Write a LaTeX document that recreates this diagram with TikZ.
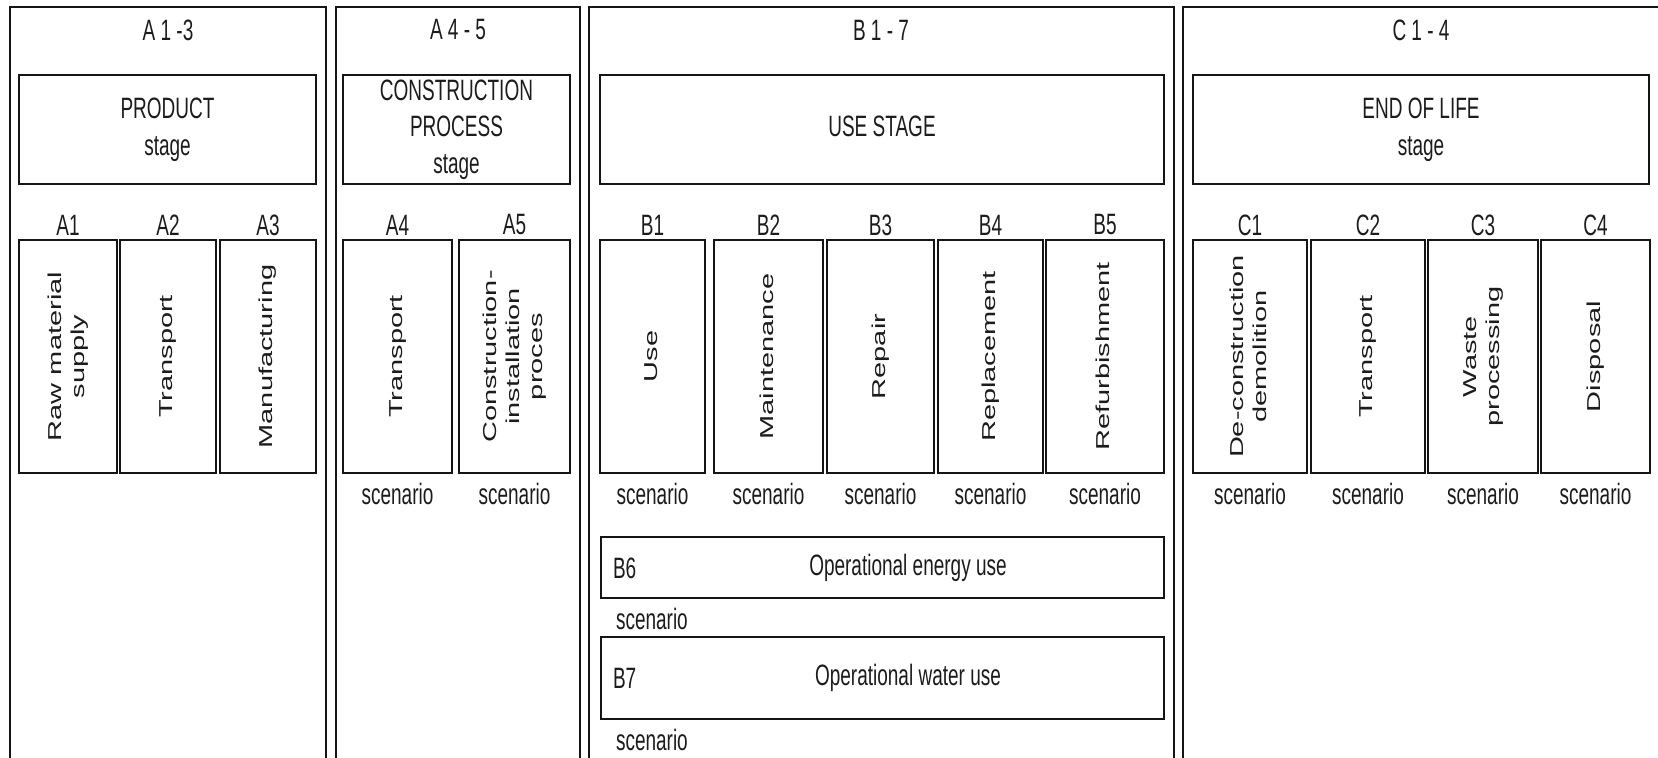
\documentclass[tikz,border=0pt]{standalone}
\usepackage{fontspec}
\setmainfont{Liberation Sans}
\usepackage{graphicx}
\definecolor{ln}{HTML}{151515}
\definecolor{txt}{HTML}{1C1C1C}
\newcommand\hs[1]{\scalebox{1}[1.55]{#1}}
\newcommand\hT[1]{\scalebox{1}[1.55]{\begin{tabular}{@{}c@{}}#1\end{tabular}}}
\newcommand\vT[1]{\rotatebox{90}{\scalebox{1.55}[1]{\fontsize{18.7}{23}\selectfont\begin{tabular}{@{}c@{}}#1\end{tabular}}}}
\newcommand\Bx[7]{\node[#6, minimum width={#4-#2}, minimum height={#5-#3}] (#1) at ({(#2+#4)/2},{(#3+#5)/2}) {#7};}
\begin{document}
\begin{tikzpicture}[x=1pt,y=-1pt,
  every node/.style={inner sep=0pt, outer sep=0pt, text=txt, font=\fontsize{19}{23.5}\selectfont},
  panel/.style={draw=ln, line width=2pt},
  stagebox/.style={draw=ln, line width=2.4pt},
  subbox/.style={draw=ln, line width=1.5pt},
  ]
\useasboundingbox (0,0) rectangle (1658,758);
\fill[white] (0,0) rectangle (1658,758);
% panels
\draw[panel] (10,758) -- (10,7) -- (326,7) -- (326,758);
\draw[panel] (336,758) -- (336,7) -- (580,7) -- (580,758);
\draw[panel] (589,758) -- (589,7) -- (1174,7) -- (1174,758);
\draw[panel] (1183,758) -- (1183,7) -- (1658,7);
% panel titles
\node (tA13) at (168,30) {\hs{A 1 -3}};
\node (tA45) at (458,30) {\hs{A 4 - 5}};
\node (tB17) at (881,30) {\hs{B 1 - 7}};
\node (tC14) at (1421,30) {\hs{C 1 - 4}};
% stage boxes
\Bx{prod}{19}{75}{316}{184}{stagebox}{\hT{PRODUCT\\stage}}
\Bx{cons}{343}{75}{570}{184}{stagebox}{\hT{CONSTRUCTION\\PROCESS\\stage}}
\Bx{use}{600}{75}{1164}{184}{stagebox}{\hT{USE STAGE}}
\Bx{eol}{1193}{75}{1649}{184}{stagebox}{\hT{END OF LIFE\\stage}}
% module boxes
\Bx{a1}{19}{240}{117}{473}{subbox}{\vT{Raw material\\supply}}
\Bx{a2}{120}{240}{216}{473}{subbox}{\vT{Transport}}
\Bx{a3}{220}{240}{316}{473}{subbox}{\vT{Manufacturing}}
\Bx{a4}{343}{240}{452}{473}{subbox}{\vT{Transport}}
\Bx{a5}{459}{240}{570}{473}{subbox}{\vT{Construction-\\installation\\proces}}
\Bx{b1}{600}{240}{705}{473}{subbox}{\vT{Use}}
\Bx{b2}{714}{240}{823}{473}{subbox}{\vT{Maintenance}}
\Bx{b3}{827}{240}{934}{473}{subbox}{\vT{Repair}}
\Bx{b4}{938}{240}{1043}{473}{subbox}{\vT{Replacement}}
\Bx{b5}{1046}{240}{1164}{473}{subbox}{\vT{Refurbishment}}
\Bx{c1}{1193}{240}{1307}{473}{subbox}{\vT{De-construction\\demolition}}
\Bx{c2}{1311}{240}{1425}{473}{subbox}{\vT{Transport}}
\Bx{c3}{1428}{240}{1538}{473}{subbox}{\vT{Waste\\processing}}
\Bx{c4}{1541}{240}{1650}{473}{subbox}{\vT{Disposal}}
% module codes
\foreach \n/\c in {a1/A1,a2/A2,a3/A3,a4/A4,a5/A5,b1/B1,b2/B2,b3/B3,b4/B4,b5/B5,c1/C1,c2/C2,c3/C3,c4/C4}{
  \node (l\n) at (\n.north |- 0,225) {\hs{\c}};
}
% scenario labels
\foreach \n in {a4,a5,b1,b2,b3,b4,b5,c1,c2,c3,c4}{
  \node (s\n) at (\n.south |- 0,494) {\hs{scenario}};
}
% B6 / B7
\Bx{b6}{601}{537}{1164}{598}{subbox}{}
\node[anchor=west] (lb6) at (613,568) {\hs{B6}};
\node (tb6) at (908,568) {\hs{Operational energy use}};
\node[anchor=west] (sb6) at (616,619) {\hs{scenario}};
\Bx{b7}{601}{637}{1164}{719}{subbox}{}
\node[anchor=west] (lb7) at (613,678) {\hs{B7}};
\node (tb7) at (908,678) {\hs{Operational water use}};
\node[anchor=west] (sb7) at (616,740) {\hs{scenario}};
\end{tikzpicture}
\end{document}
